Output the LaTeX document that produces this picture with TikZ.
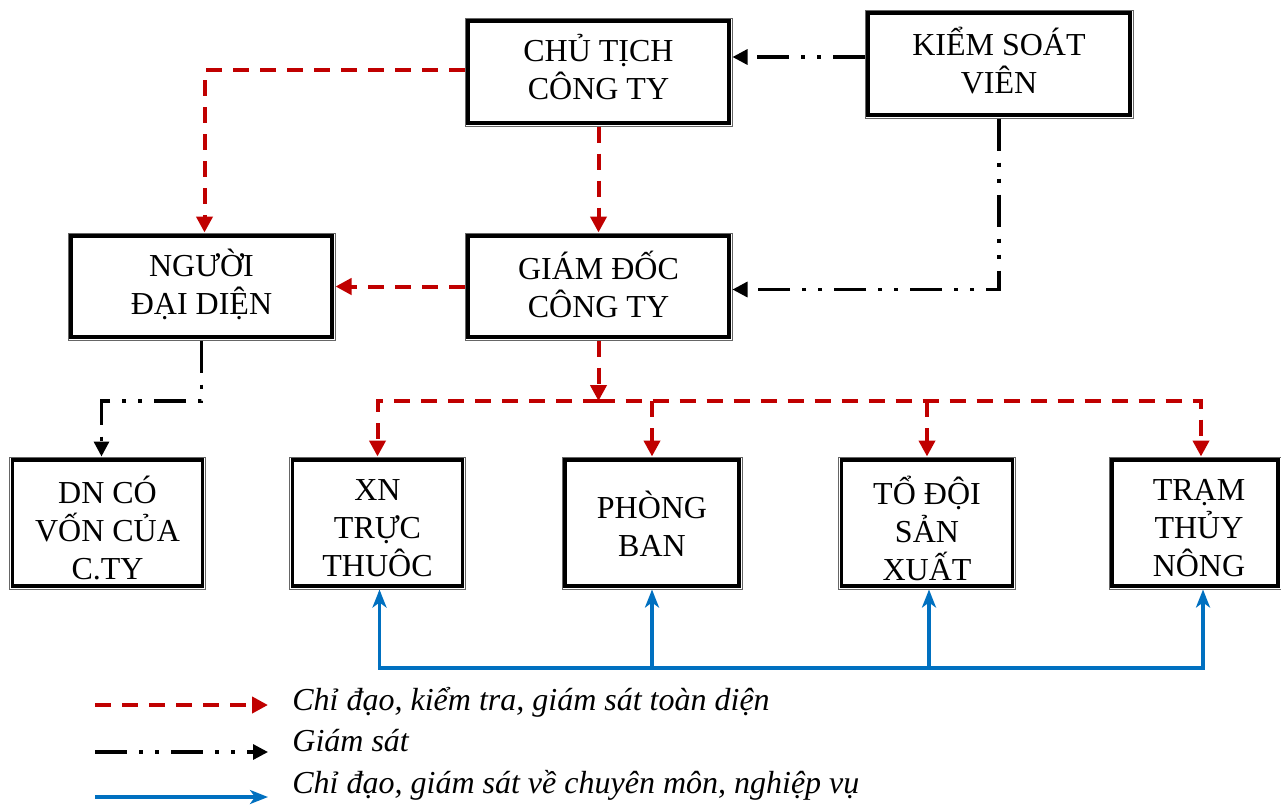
\documentclass[tikz,border=0pt]{standalone}
\usepackage{fontspec}
\setmainfont{Liberation Serif}
\usetikzlibrary{arrows.meta,calc}
\definecolor{myred}{HTML}{C00000}
\definecolor{myblue}{HTML}{0070C0}
\tikzset{
 box/.style={draw=black!60, line width=0.5pt, inner sep=0pt},
 boxtext/.style={align=center, inner sep=0pt, font=\fontsize{16}{19}\selectfont},
 innerframe/.style={draw=black, line width=1.8pt},
 redline/.style={myred, line width=2pt, dash pattern=on 8pt off 5.5pt,
   -{Triangle[length=8pt,width=8pt]}},
 blkline/.style={black, line width=1.6pt,
   dash pattern=on 16pt off 6pt on 2pt off 6pt on 2pt off 6pt,
   -{Triangle[length=7.5pt,width=7.5pt]}},
 blueline/.style={myblue, line width=1.6pt, -{Stealth[length=9pt,width=7pt,inset=2.5pt]}},
 legtext/.style={font=\fontsize{16}{19}\selectfont\itshape, anchor=base west, inner sep=0pt},
}
\newcommand\frm[1]{\draw[innerframe] ([shift={(1.7pt,-1.7pt)}]#1.north west) rectangle ([shift={(-1.7pt,1.7pt)}]#1.south east);}
\begin{document}
\begin{tikzpicture}[x=0.5pt,y=-0.5pt]
\useasboundingbox (0,0) rectangle (1281,805);
% boxes
\node[box, minimum width=133.5pt, minimum height=54pt,
  label={[boxtext, yshift=2.5pt]center:{CHỦ TỊCH\\CÔNG TY}}] (chu) at (598.5,72) {};
\node[box, minimum width=134pt, minimum height=54pt,
  label={[boxtext, yshift=1.5pt]center:{KIỂM SOÁT\\VIÊN}}] (kiem) at (999,64) {};
\node[box, minimum width=133.5pt, minimum height=53.5pt,
  label={[boxtext, yshift=1pt]center:{NGƯỜI\\ĐẠI DIỆN}}] (nguoi) at (201.5,286.5) {};
\node[box, minimum width=133.5pt, minimum height=53.5pt,
  label={[boxtext, yshift=1pt]center:{GIÁM ĐỐC\\CÔNG TY}}] (giam) at (598.5,286.5) {};
\node[box, minimum width=98pt, minimum height=66pt,
  label={[boxtext, yshift=-2.5pt]center:{DN CÓ\\VỐN CỦA\\C.TY}}] (dn) at (107.5,523) {};
\node[box, minimum width=88pt, minimum height=66pt,
  label={[boxtext, yshift=-2.5pt]center:{XN\\TRỰC\\THUÔC}}] (xn) at (377.5,523) {};
\node[box, minimum width=90pt, minimum height=66pt,
  label={[boxtext, yshift=-0.5pt]center:{PHÒNG\\BAN}}] (phong) at (652,523) {};
\node[box, minimum width=88.5pt, minimum height=66pt,
  label={[boxtext, yshift=-2.5pt]center:{TỔ ĐỘI\\SẢN\\XUẤT}}] (to) at (927,523) {};
\node[box, minimum width=86pt, minimum height=66pt,
  label={[boxtext, yshift=-2.5pt, xshift=2pt]center:{TRẠM\\THỦY\\NÔNG}}] (tram) at (1195,523) {};
\frm{chu}\frm{kiem}\frm{nguoi}\frm{giam}\frm{dn}\frm{xn}\frm{phong}\frm{to}\frm{tram}
% red connectors
\draw[redline] ([yshift=1pt]chu.west) -| ([xshift=1.5pt]nguoi.north);
\draw[redline] (chu.south) -- (giam.north);
\draw[redline] (giam.west) -- (nguoi.east);
\coordinate (bus) at (598.5,401);
\coordinate (tramtop) at ([xshift=3pt]tram.north);
\draw[redline] (giam.south) -- (bus);
\draw[redline] (bus) -| (xn.north);
\draw[redline] (bus) -| (tramtop);
\draw[redline] (phong.north |- bus) -- (phong.north);
\draw[redline] (to.north |- bus) -- (to.north);
% black connectors
\coordinate (kw) at ([yshift=3.5pt]kiem.west);
\draw[blkline] (kw) -- (chu.east |- kw);
\draw[blkline] (kiem.south) |- ([yshift=-1.5pt]giam.east);
\draw[blkline] (nguoi.south) -- (nguoi.south |- bus) -| ([xshift=-3pt]dn.north);
% blue connectors
\coordinate (bb) at (653,668);
\coordinate (trambot) at ([xshift=4pt]tram.south);
\draw[blueline] (bb) -| ([xshift=1pt]xn.south);
\draw[blueline] (bb) -| (trambot);
\draw[blueline] (phong.south |- bb) -- (phong.south);
\draw[blueline] ([xshift=1pt]to.south |- bb) -- ([xshift=1pt]to.south);
% legend
\coordinate (r1) at (95,705); \coordinate (r2) at (268,705);
\coordinate (k1) at (95,752); \coordinate (k2) at (268,752);
\coordinate (b1) at (95,797); \coordinate (b2) at (268,797);
\draw[redline] (r1) -- (r2);
\draw[blkline] (k1) -- (k2);
\draw[blueline] (b1) -- (b2);
\node[legtext] (t1) at (292,710) {Chỉ đạo, kiểm tra, giám sát toàn diện};
\node[legtext] (t2) at (292,751) {Giám sát};
\node[legtext] (t3) at (292,793) {Chỉ đạo, giám sát về chuyên môn, nghiệp vụ};
\end{tikzpicture}
\end{document}
